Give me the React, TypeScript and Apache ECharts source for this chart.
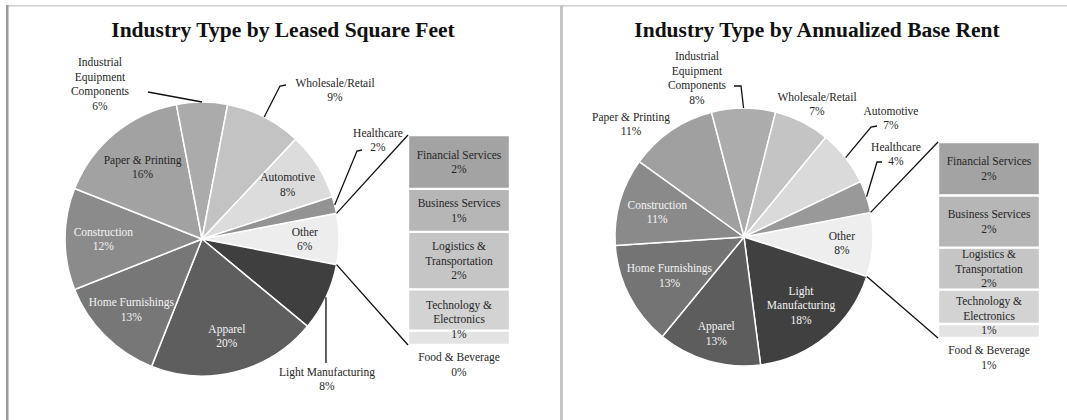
import React, { useEffect, useRef } from "react";
import * as echarts from "echarts";

// ---------------- DATA ----------------
const pieCategories = [
  "Other",
  "Light Manufacturing",
  "Apparel",
  "Home Furnishings",
  "Construction",
  "Paper & Printing",
  "Industrial Equipment Components",
  "Wholesale/Retail",
  "Automotive",
  "Healthcare",
];
const sqftPieValues = [6, 8, 20, 13, 12, 16, 6, 9, 8, 2];
const rentPieValues = [8, 18, 13, 13, 11, 11, 8, 7, 7, 4];

const otherCategories = [
  "Financial Services",
  "Business Services",
  "Logistics & Transportation",
  "Technology & Electronics",
  "Food & Beverage",
];
const sqftOtherValues = [1.5, 1.2, 1.6, 1.15, 0.4];
const rentOtherValues = [2.1, 2.05, 1.65, 1.35, 0.55];

const titles = ["Industry Type by Leased Square Feet", "Industry Type by Annualized Base Rent"];

// ---------------- STYLE / LAYOUT ----------------
const FONT = "'Liberation Serif', 'Times New Roman', serif";
const DARK = "#262626";
const LIGHT = "#f4f4f4";
const LABEL_SIZE = 11.5;
const LINE_H = 14.5;

const pieColorsLeft = ["#ededed", "#3f3f3f", "#5e5e5e", "#777777", "#8b8b8b", "#a2a2a2", "#ababab", "#c3c3c3", "#dcdcdc", "#939393"];
const pieColorsRight = ["#eeeeee", "#404040", "#5d5d5d", "#747474", "#8a8a8a", "#a0a0a0", "#acacac", "#c4c4c4", "#dadada", "#999999"];
const barColors = ["#a3a3a3", "#b6b6b6", "#c5c5c5", "#d3d3d3", "#e3e3e3"];
const barLabelText = ["Financial Services", "Business Services", "Logistics &\nTransportation", "Technology &\nElectronics", "Food & Beverage"];

type Lab =
  | { mode: "in"; f: number; color: string; text?: string }
  | { mode: "out"; x: number; y: number; line?: number[][]; text?: string };

const leftLabels: Lab[] = [
  { mode: "in", f: 0.75, color: DARK },
  { mode: "out", x: 327, y: 379, line: [[326, 363]] },
  { mode: "in", f: 0.73, color: LIGHT },
  { mode: "in", f: 0.73, color: LIGHT },
  { mode: "in", f: 0.72, color: LIGHT },
  { mode: "in", f: 0.68, color: DARK },
  { mode: "out", x: 100, y: 84, text: "Industrial\nEquipment\nComponents", line: [[148, 92]] },
  { mode: "out", x: 335, y: 90, line: [[286, 85], [280, 86]] },
  { mode: "in", f: 0.74, color: DARK },
  { mode: "out", x: 378, y: 140, line: [[362, 150], [357, 151]] },
];
const rightLabels: Lab[] = [
  { mode: "in", f: 0.76, color: DARK },
  { mode: "in", f: 0.69, color: LIGHT, text: "Light\nManufacturing" },
  { mode: "in", f: 0.78, color: LIGHT },
  { mode: "in", f: 0.65, color: LIGHT },
  { mode: "in", f: 0.7, color: LIGHT },
  { mode: "out", x: 631, y: 124 },
  { mode: "out", x: 697, y: 78, text: "Industrial\nEquipment\nComponents", line: [[734, 86], [741, 86]] },
  { mode: "out", x: 817, y: 104 },
  { mode: "out", x: 891, y: 118, line: [[877, 126], [871, 127]] },
  { mode: "out", x: 896, y: 154, line: [[882, 162], [877, 162]] },
];

const panels = [
  {
    title: titles[0], titleX: 283, center: [202, 239], radius: 137, startAngle: 10.8,
    values: sqftPieValues, colors: pieColorsLeft, labels: leftLabels,
    others: sqftOtherValues, grid: { left: 408, top: 135, width: 102, height: 210 },
  },
  {
    title: titles[1], titleX: 817, center: [744, 237], radius: 129, startAngle: 11,
    values: rentPieValues, colors: pieColorsRight, labels: rightLabels,
    others: rentOtherValues, grid: { left: 938, top: 142, width: 102, height: 196 },
  },
];

const sum = (a: number[]) => a.reduce((s, v) => s + v, 0);
const pct = (v: number) => `${Math.round(v)}%`;

function textEl(x: number, y: number, text: string, fill: string, size = LABEL_SIZE, weight: any = "normal") {
  return {
    type: "text", x, y, z: 100, silent: true,
    style: { text, fill, fontSize: size, fontWeight: weight, fontFamily: FONT, align: "center", verticalAlign: "middle", lineHeight: size === LABEL_SIZE ? LINE_H : size * 1.2 },
  };
}
function lineEl(points: number[][]) {
  return { type: "polyline", z: 100, silent: true, shape: { points }, style: { stroke: "#111", lineWidth: 1.3, fill: null } };
}

function buildPanelGraphics(p: any) {
  const els: any[] = [];
  const [cx, cy] = p.center;
  const r = p.radius;
  const total = sum(p.values);
  let cum = 0;
  const edge = (deg: number, rr = r) => {
    const a = (deg * Math.PI) / 180;
    return [cx + rr * Math.cos(a), cy - rr * Math.sin(a)];
  };
  let otherStart = 0, otherEnd = 0;
  p.values.forEach((v: number, i: number) => {
    const a0 = p.startAngle - (cum / total) * 360;
    const a1 = a0 - (v / total) * 360;
    cum += v;
    if (i === 0) { otherStart = a0; otherEnd = a1; }
    const mid = (a0 + a1) / 2;
    const lab: Lab = p.labels[i];
    const text = `${lab.text ?? pieCategories[i]}\n${pct(v)}`;
    if (lab.mode === "in") {
      const [x, y] = edge(mid, lab.f * r);
      els.push(textEl(x, y, text, lab.color));
    } else {
      els.push(textEl(lab.x, lab.y, text, DARK));
      if (lab.line) els.push(lineEl([...lab.line, edge(mid)]));
    }
  });
  // connector lines from "Other" slice to the bar
  const g = p.grid;
  els.push(lineEl([edge(otherStart), [g.left, g.top]]));
  els.push(lineEl([edge(otherEnd), [g.left, g.top + g.height]]));
  // title
  els.push(textEl(p.titleX, 30, p.title, "#111", 21.5, "bold"));
  return els;
}

export default function App() {
  const ref = useRef<HTMLDivElement>(null);
  useEffect(() => {
    if (!ref.current) return;
    const chart = echarts.init(ref.current, undefined, { renderer: "svg" });

    const series: any[] = [];
    const grids: any[] = [];
    const xAxes: any[] = [];
    const yAxes: any[] = [];
    let graphics: any[] = [
      { type: "rect", z: 50, silent: true, shape: { x: 6, y: 5, width: 1061, height: 1.5 }, style: { fill: "#cfcfcf" } },
      { type: "rect", z: 50, silent: true, shape: { x: 6, y: 5, width: 2.5, height: 415 }, style: { fill: "#9a9a9a" } },
      { type: "rect", z: 50, silent: true, shape: { x: 560, y: 5, width: 3, height: 415 }, style: { fill: "#c6c6c6" } },
    ];

    panels.forEach((p, pi) => {
      series.push({
        type: "pie",
        center: p.center,
        radius: p.radius,
        startAngle: p.startAngle,
        clockwise: true,
        silent: true,
        avoidLabelOverlap: false,
        label: { show: false },
        labelLine: { show: false },
        itemStyle: { borderColor: "#ffffff", borderWidth: 1.5 },
        data: pieCategories.map((name, i) => ({ name, value: p.values[i], itemStyle: { color: p.colors[i] } })),
      });
      grids.push({ ...p.grid, containLabel: false });
      xAxes.push({ type: "category", gridIndex: pi, data: ["Other"], show: false });
      yAxes.push({ type: "value", gridIndex: pi, min: 0, max: sum(p.others), show: false });
      // stacked from bottom: Food first
      for (let j = otherCategories.length - 1; j >= 0; j--) {
        const isLast = j === otherCategories.length - 1;
        series.push({
          type: "bar",
          name: otherCategories[j],
          xAxisIndex: pi,
          yAxisIndex: pi,
          stack: "other" + pi,
          barWidth: "100%",
          silent: true,
          data: [p.others[j]],
          itemStyle: { color: barColors[j], borderColor: "#ffffff", borderWidth: 1.2 },
          label: {
            show: true,
            position: isLast ? "bottom" : "inside",
            distance: 5,
            offset: j === 3 ? [0, 9] : [0, 0],
            formatter: () => `${barLabelText[j]}\n${pct(p.others[j])}`,
            color: DARK,
            fontSize: LABEL_SIZE,
            lineHeight: LINE_H,
            fontFamily: FONT,
            align: "center",
          },
        });
      }
      graphics = graphics.concat(buildPanelGraphics(p));
    });

    chart.setOption({
      animation: false,
      backgroundColor: "#ffffff",
      textStyle: { fontFamily: FONT },
      grid: grids,
      xAxis: xAxes,
      yAxis: yAxes,
      series,
      graphic: { elements: graphics },
    });
    return () => chart.dispose();
  }, []);
  return <div ref={ref} style={{ position: "absolute", left: 0, top: 0, width: 1067, height: 420 }} />;
}
